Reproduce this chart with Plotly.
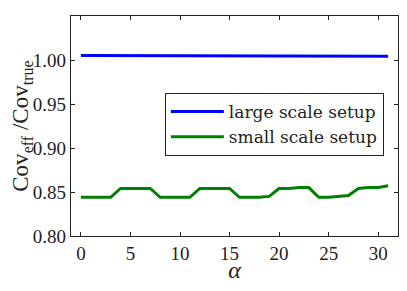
import plotly.graph_objects as go

alpha = list(range(32))
large_scale = [1.005, 1.005, 1.005, 1.005, 1.005, 1.0048, 1.0048, 1.0048, 1.005, 1.005,
               1.005, 1.0049, 1.0048, 1.0048, 1.0048, 1.0048, 1.005, 1.005, 1.005, 1.0049,
               1.0048, 1.0048, 1.0047, 1.0046, 1.005, 1.0049, 1.0047, 1.0045, 1.0048, 1.0047,
               1.0045, 1.0042]
small_scale = [0.844, 0.844, 0.844, 0.844, 0.854, 0.854, 0.854, 0.854, 0.844, 0.844,
               0.844, 0.844, 0.854, 0.854, 0.854, 0.854, 0.844, 0.844, 0.844, 0.845,
               0.854, 0.854, 0.855, 0.855, 0.844, 0.844, 0.845, 0.846, 0.854, 0.855,
               0.855, 0.857]
names = ["large scale setup", "small scale setup"]
colors = ["#0000ff", "#008000"]
yticks = [0.80, 0.85, 0.90, 0.95, 1.00, 1.05]
xticks = [0, 5, 10, 15, 20, 25, 30]

font = "Liberation Serif"
legend_font = "DejaVu Serif"
fig = go.Figure()
for name, ys, c in zip(names, [large_scale, small_scale], colors):
    fig.add_trace(go.Scatter(x=alpha, y=ys, mode="lines", name=name,
                             line=dict(color=c, width=3)))

axis_common = dict(showline=True, linecolor="#222", linewidth=1.3, mirror="ticks",
                   ticks="inside", ticklen=4, tickcolor="#222", showgrid=False,
                   zeroline=False, automargin=False,
                   tickfont=dict(family=font, size=19, color="#222"))
fig.update_xaxes(range=[-1, 32], tickvals=xticks, ticktext=[str(v) for v in xticks],
                 title=dict(text="<i>α</i>", font=dict(family=font, size=24, color="#222"),
                            standoff=4), **axis_common)
fig.update_yaxes(range=[0.80, 1.05], tickvals=yticks, ticktext=[f"{v:.2f}" for v in yticks],
                 title=dict(text="Cov<sub>eff</sub> /Cov<sub>true</sub>",
                            font=dict(family=font, size=23, color="#222"), standoff=4),
                 **axis_common)
# page body has an 8px margin; size the figure so it fits the window with that margin
fig.update_layout(
    width=391, height=275,
    margin=dict(l=63, r=1, t=8, b=47),
    paper_bgcolor="white", plot_bgcolor="white",
    showlegend=True,
    legend=dict(x=0.287, y=0.65, xanchor="left", yanchor="top",
                bordercolor="#222", borderwidth=1, bgcolor="white",
                font=dict(family=legend_font, size=17, color="#222"),
                itemwidth=53, tracegroupgap=0),
)
fig.write_html("out.html")
